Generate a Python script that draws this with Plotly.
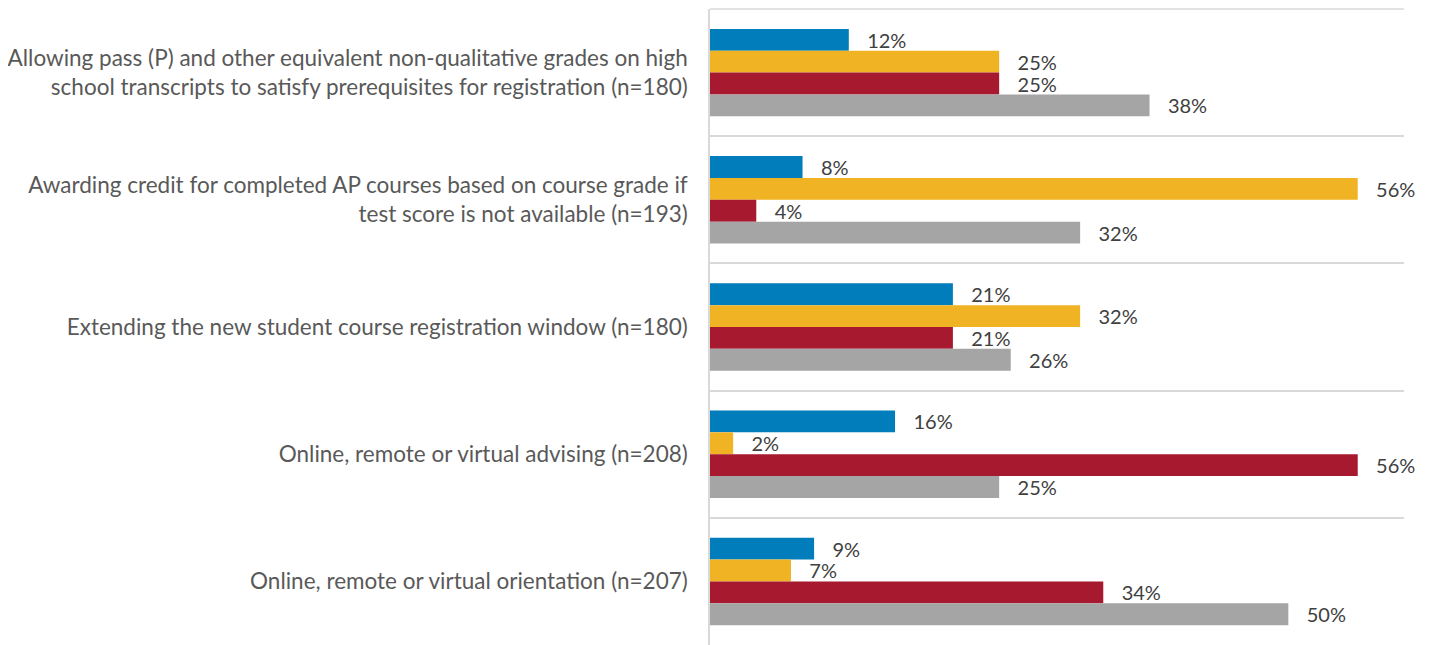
import plotly.graph_objects as go

categories = [
    "Allowing pass (P) and other equivalent non-qualitative grades on high<br>school transcripts to satisfy prerequisites for registration (n=180)",
    "Awarding credit for completed AP courses based on course grade if<br>test score is not available (n=193)",
    "Extending the new student course registration window (n=180)",
    "Online, remote or virtual advising (n=208)",
    "Online, remote or virtual orientation (n=207)",
]
series_names = ["Series 1", "Series 2", "Series 3", "Series 4"]
series_values = [
    [12, 8, 21, 16, 9],
    [25, 56, 32, 2, 7],
    [25, 4, 21, 56, 34],
    [38, 32, 26, 25, 50],
]
colors = ["#007DBA", "#F0B323", "#A6192E", "#A5A5A5"]

fig = go.Figure()
for name, vals, col in zip(series_names, series_values, colors):
    fig.add_trace(go.Bar(
        y=categories, x=vals, name=name, orientation="h",
        marker=dict(color=col, line=dict(width=0)),
        text=["\u00a0\u00a0\u00a0%d%%" % v for v in vals],
        textposition="outside", cliponaxis=False, constraintext="none",
        textfont=dict(size=20, color="#404040", family="Lato"),
    ))

fig.update_layout(
    width=1425, height=637,
    margin=dict(l=702, r=29, t=1, b=0),
    barmode="group", bargap=0.3125, bargroupgap=0,
    plot_bgcolor="white", paper_bgcolor="white",
    showlegend=False,
    font=dict(family="Lato", size=22, color="#595959"),
    xaxis=dict(range=[0, 60], showgrid=False, showticklabels=False, zeroline=False,
               showline=False, ticks=""),
    yaxis=dict(autorange="reversed", tickson="boundaries", showgrid=True,
               gridcolor="#D9D9D9", gridwidth=1.5, ticks="", showline=True,
               linecolor="#D9D9D9", linewidth=1.5, ticklabelstandoff=16,
               tickfont=dict(size=22.5, color="#595959")),
    shapes=[
        dict(type="line", xref="paper", yref="paper", x0=1.0403, x1=1.0403,
             y0=-0.05, y1=1.05, line=dict(color="#D9D9D9", width=1.5)),
        dict(type="line", xref="paper", yref="paper", x0=0, x1=1,
             y0=1, y1=1, line=dict(color="#D9D9D9", width=1.5)),
    ],
)
fig.write_html("out.html")
